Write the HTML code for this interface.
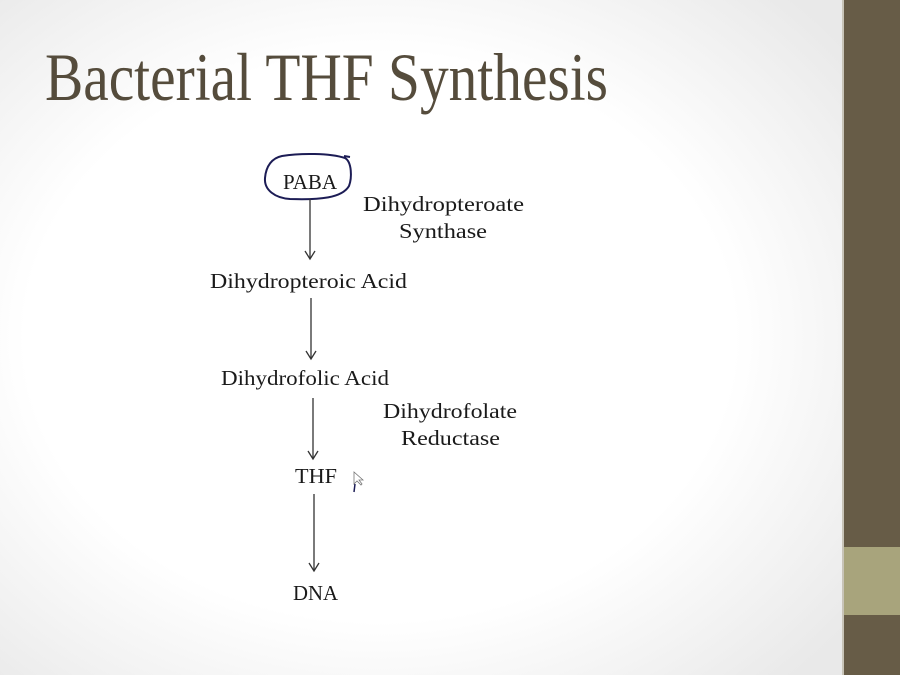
<!DOCTYPE html>
<html><head><meta charset="utf-8"><style>
html,body{margin:0;padding:0;width:900px;height:675px;overflow:hidden}
</style></head><body>
<svg width="900" height="675" xmlns="http://www.w3.org/2000/svg">
<defs>
<radialGradient id="bg" cx="0.45" cy="0.5" r="0.7">
<stop offset="0.6" stop-color="#ffffff"/><stop offset="1" stop-color="#e9e9e9"/>
</radialGradient>
</defs>
<rect width="844" height="675" fill="url(#bg)"/>
<rect x="842" y="0" width="2" height="675" fill="#c8c4b8"/>
<rect x="844" y="0" width="56" height="675" fill="#675c47"/>
<rect x="844" y="547" width="56" height="68" fill="#a8a47c"/>
<g font-family="'Liberation Serif',serif" fill="#1a1a1a">
<text x="45" y="100" font-size="68" fill="#554c3c" textLength="563" lengthAdjust="spacingAndGlyphs">Bacterial THF Synthesis</text>
<text x="283" y="189" font-size="21" textLength="54" lengthAdjust="spacingAndGlyphs">PABA</text>
<text x="363" y="211" font-size="21" textLength="161" lengthAdjust="spacingAndGlyphs">Dihydropteroate</text>
<text x="399" y="238" font-size="21" textLength="88" lengthAdjust="spacingAndGlyphs">Synthase</text>
<text x="210" y="288" font-size="21" textLength="197" lengthAdjust="spacingAndGlyphs">Dihydropteroic Acid</text>
<text x="221" y="385" font-size="21" textLength="168" lengthAdjust="spacingAndGlyphs">Dihydrofolic Acid</text>
<text x="383" y="418" font-size="21" textLength="134" lengthAdjust="spacingAndGlyphs">Dihydrofolate</text>
<text x="401" y="445" font-size="21" textLength="99" lengthAdjust="spacingAndGlyphs">Reductase</text>
<text x="295" y="483" font-size="21" textLength="42" lengthAdjust="spacingAndGlyphs">THF</text>
<text x="293" y="600" font-size="21" textLength="45" lengthAdjust="spacingAndGlyphs">DNA</text>
</g>
<path d="M282,156 C300,153 330,153 345,158 C352,162 352,178 349,186 C342,198 320,200 290,199 C275,198 264,190 265,178 C266,166 272,158 282,156 Z M344,156 L350,157" fill="none" stroke="#1c1c55" stroke-width="2"/>
<g stroke="#333" stroke-width="1.3" fill="none">
<line x1="310" y1="199" x2="310" y2="258"/><path d="M305,251 L310,259 L315,251"/>
<line x1="311" y1="298" x2="311" y2="358"/><path d="M306,351 L311,359 L316,351"/>
<line x1="313" y1="398" x2="313" y2="458"/><path d="M308,451 L313,459 L318,451"/>
<line x1="314" y1="494" x2="314" y2="570"/><path d="M309,563 L314,571 L319,563"/>
</g>
<path d="M354,472 L354,484 L357,481 L361,485 L362,484 L359,480 L363,480 Z" fill="#fff" stroke="#777" stroke-width="0.8"/>
<line x1="355" y1="484" x2="354" y2="492" stroke="#1c1c55" stroke-width="1.5"/>
</svg>
</body></html>
